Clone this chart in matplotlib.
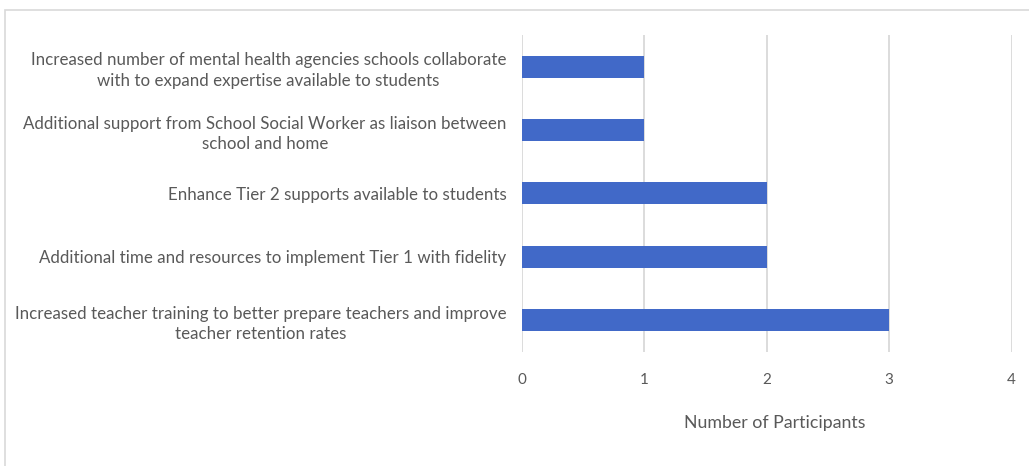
import matplotlib

matplotlib.use("Agg")
import matplotlib.pyplot as plt
from matplotlib.patches import Rectangle

# top-to-bottom order as shown
categories = [
    "Increased number of mental health agencies schools collaborate\nwith to expand expertise available to students",
    "Additional support from School Social Worker as liaison between\nschool and home",
    "Enhance Tier 2 supports available to students",
    "Additional time and resources to implement Tier 1 with fidelity",
    "Increased teacher training to better prepare teachers and improve\nteacher retention rates",
]
participants = [1, 1, 2, 2, 3]
x_ticks = [0, 1, 2, 3, 4]

text_color = "#595959"
plt.rcParams["font.family"] = ["Lato", "DejaVu Sans"]

fig = plt.figure(figsize=(10.29, 4.66), dpi=100)
ax = fig.add_axes([0.507, 0.245, 0.476, 0.68])

ypos = list(range(len(categories)))
ax.barh(ypos, participants, height=0.35, color="#4169c8", zorder=3)
ax.set_ylim(len(categories) - 0.5, -0.5)
ax.set_xlim(0, 4)

ax.set_xticks(x_ticks)
ax.set_xticklabels([str(t) for t in x_ticks])
ax.set_yticks(ypos)
ax.set_yticklabels(categories, ha="right", multialignment="center", linespacing=1.35)
ax.tick_params(axis="y", length=0, pad=11, labelsize=12.2, labelcolor=text_color)
ax.tick_params(axis="x", length=0, pad=15, labelsize=11, labelcolor=text_color)

ax.grid(axis="x", color="#d9d9d9", linewidth=1.3, zorder=0)
for side in ax.spines.values():
    side.set_visible(False)

ax.set_xlabel("Number of Participants", fontsize=12.8, color=text_color)
ax.xaxis.set_label_coords(0.516, -0.2)

# light frame around the chart area
fig.patches.append(Rectangle((0.005, -0.1), 1.2, 1.078, transform=fig.transFigure,
                             fill=False, edgecolor="#d9d9d9", linewidth=1.2))

fig.savefig("out.png", dpi=100, facecolor="white")
